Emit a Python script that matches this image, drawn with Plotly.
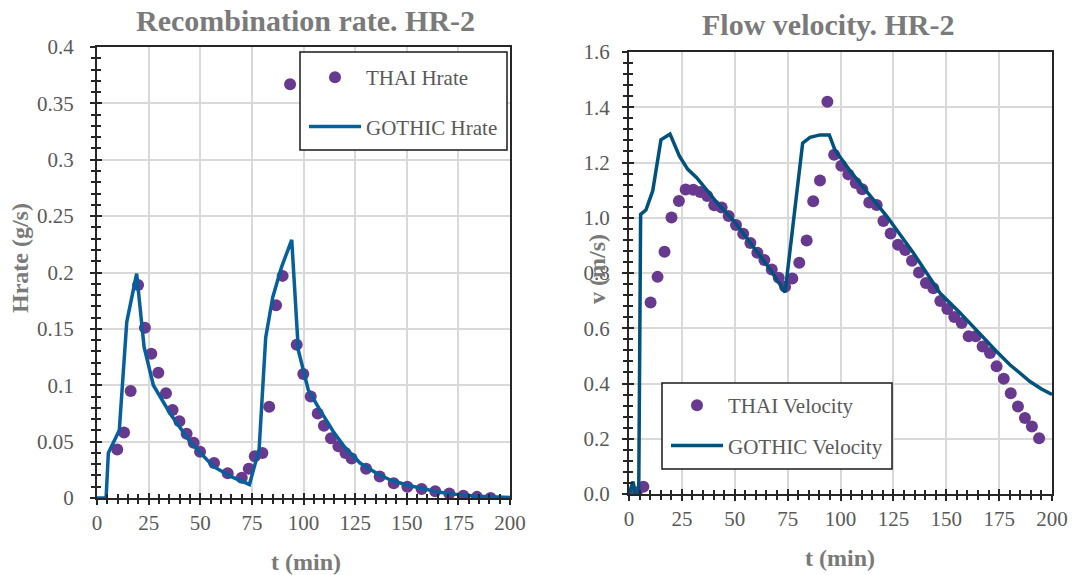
import plotly.graph_objects as go

# ---------------- data ----------------
# Recombination rate (left)
t_thai_h = [9.8, 13.1, 16.3, 19.9, 23.2, 26.3, 29.7, 33.4, 36.6, 39.9,
            43.4, 46.8, 49.9, 56.7, 63.3, 70.1, 73.5, 76.4, 80.1, 83.4,
            86.7, 89.9, 93.5, 96.7, 99.9, 103.5, 106.9, 109.9, 113.3, 116.9,
            120.3, 123.3, 130.3, 136.9, 143.7, 150.3, 157.2, 163.8, 170.6, 177.4,
            184.0, 190.6]
h_thai = [0.043, 0.058, 0.095, 0.189, 0.151, 0.128, 0.111, 0.093, 0.078, 0.068,
          0.057, 0.049, 0.041, 0.031, 0.022, 0.018, 0.026, 0.037, 0.040, 0.081,
          0.171, 0.197, 0.367, 0.136, 0.110, 0.090, 0.075, 0.064, 0.053, 0.046,
          0.040, 0.035, 0.026, 0.019, 0.013, 0.010, 0.008, 0.006, 0.004, 0.002,
          0.001, 0.000]

t_goth_h = [0, 4.4, 5.5, 10.8, 14.4, 19.2, 22.8, 27.3, 35.4, 45, 56.3, 65, 73.8,
            78.5, 81.7, 85.1, 89.4, 94.3, 97.5, 102.3, 108, 114.4, 120, 127.4,
            135.4, 142, 150, 158, 166, 175, 185, 200]
h_goth = [0, 0, 0.040, 0.060, 0.156, 0.199, 0.134, 0.100, 0.075, 0.050, 0.028, 0.019,
          0.012, 0.043, 0.1425, 0.178, 0.205, 0.229, 0.131, 0.096, 0.078, 0.059,
          0.045, 0.031, 0.022, 0.016, 0.0115, 0.008, 0.005, 0.003, 0.0015, 0.0005]

# Flow velocity (right)
t_thai_v = [3.6, 6.8, 10.2, 13.5, 16.8, 20.1, 23.6, 26.8, 30.4, 33.7,
            37.0, 40.3, 43.8, 47.1, 50.6, 54.0, 57.4, 60.7, 64.0, 67.5,
            70.8, 73.8, 77.2, 80.5, 84.0, 87.1, 90.3, 93.8, 97.0, 100.4,
            103.7, 107.2, 110.3, 113.6, 117.1, 120.3, 123.7, 127.2, 130.6, 133.8,
            137.1, 140.4, 143.9, 147.2, 150.5, 153.8, 157.3, 160.6, 163.9, 167.2,
            170.7, 173.8, 177.2, 180.5, 183.9, 187.2, 190.5, 193.9]
v_thai = [0.006, 0.026, 0.693, 0.786, 0.877, 1.001, 1.061, 1.102, 1.101, 1.093,
          1.079, 1.045, 1.037, 1.006, 0.974, 0.942, 0.909, 0.873, 0.847, 0.813,
          0.783, 0.750, 0.780, 0.837, 0.918, 1.060, 1.135, 1.420, 1.228, 1.188,
          1.157, 1.126, 1.103, 1.055, 1.046, 0.988, 0.943, 0.902, 0.883, 0.844,
          0.802, 0.764, 0.745, 0.699, 0.670, 0.641, 0.619, 0.571, 0.571, 0.534,
          0.510, 0.462, 0.417, 0.365, 0.317, 0.275, 0.244, 0.202]

t_goth_v = [0, 1.9, 3.0, 4.6, 5.5, 8.0, 11.2, 15.1, 19.4, 23.8, 27.7, 32.0, 36.7,
            41.5, 50, 60, 67, 73.8, 82.1, 85.6, 90.3, 94.7, 97.4, 105, 113.9,
            121.8, 134.4, 147, 156, 164.4, 173.8, 180.1, 189.6, 195, 200]
v_goth = [0.0, 0.045, 0.0, 0.0, 1.012, 1.028, 1.097, 1.282, 1.303, 1.224, 1.176,
          1.145, 1.101, 1.055, 0.985, 0.88, 0.81, 0.730, 1.270, 1.291, 1.300, 1.300,
          1.245, 1.165, 1.079, 1.006, 0.873, 0.728, 0.66, 0.59, 0.516, 0.468, 0.407,
          0.38, 0.36]

x_ticks = [0, 25, 50, 75, 100, 125, 150, 175, 200]
h_ticks = [0, 0.05, 0.1, 0.15, 0.2, 0.25, 0.3, 0.35, 0.4]
h_tick_text = ["0", "0.05", "0.1", "0.15", "0.2", "0.25", "0.3", "0.35", "0.4"]
v_ticks = [0, 0.2, 0.4, 0.6, 0.8, 1.0, 1.2, 1.4, 1.6]
v_tick_text = ["0.0", "0.2", "0.4", "0.6", "0.8", "1.0", "1.2", "1.4", "1.6"]

# ---------------- style ----------------
W, H = 1072, 575
SERIF = "Liberation Serif"
GRAY_TXT = "#595959"
TITLE_GRAY = "#7a7a7a"
AX = "#262626"
GRID = "#d9d9d9"
PURPLE = "#673a8f"
BLUE_L = "#075f9c"
BLUE_R = "#00527d"

def px_x(p):
    return p / W

def px_y(p):
    return 1 - p / H

L1 = (97, 510, 47, 498)     # left plot: x0, x1, ytop, ybottom
L2 = (629, 1052, 52, 494)   # right plot

fig = go.Figure()

fig.add_trace(go.Scatter(x=t_thai_h, y=h_thai, mode="markers", name="THAI Hrate",
                         marker=dict(color=PURPLE, size=12), xaxis="x", yaxis="y",
                         legend="legend", legendgroup="a"))
fig.add_trace(go.Scatter(x=t_goth_h, y=h_goth, mode="lines", name="GOTHIC Hrate",
                         line=dict(color=BLUE_L, width=3.5), xaxis="x", yaxis="y",
                         legend="legend", legendgroup="b"))
fig.add_trace(go.Scatter(x=t_thai_v, y=v_thai, mode="markers", name="THAI Velocity",
                         marker=dict(color=PURPLE, size=12), xaxis="x2", yaxis="y2",
                         legend="legend2", legendgroup="c"))
fig.add_trace(go.Scatter(x=t_goth_v, y=v_goth, mode="lines", name="GOTHIC Velocity",
                         line=dict(color=BLUE_R, width=3.5), xaxis="x2", yaxis="y2",
                         legend="legend2", legendgroup="d"))
# empty traces to host the overlay axes (inside half of the crossing ticks)
fig.add_trace(go.Scatter(x=[], y=[], xaxis="x3", yaxis="y3", showlegend=False))
fig.add_trace(go.Scatter(x=[], y=[], xaxis="x4", yaxis="y4", showlegend=False))

tickfont = dict(family=SERIF, size=21, color=GRAY_TXT)

def xaxis_main(dom, anchor):
    return dict(domain=dom, anchor=anchor, range=[0, 200], tickvals=x_ticks,
                showgrid=True, gridcolor=GRID, gridwidth=1.5, zeroline=False,
                showline=True, linecolor=AX, linewidth=2, mirror=True,
                ticks="outside", ticklen=5, tickwidth=2, tickcolor=AX,
                minor=dict(dtick=5, ticks="outside", ticklen=4, tickwidth=1.5,
                           tickcolor=AX, showgrid=False),
                tickfont=tickfont, ticklabelstandoff=0, automargin=False)

def yaxis_main(dom, anchor, rng, vals, texts, mdt, standoff):
    return dict(domain=dom, anchor=anchor, range=rng, tickvals=vals, ticktext=texts,
                showgrid=True, gridcolor=GRID, gridwidth=1.5, zeroline=False,
                showline=True, linecolor=AX, linewidth=2, mirror=True,
                ticks="outside", ticklen=5, tickwidth=2, tickcolor=AX,
                minor=dict(dtick=mdt, ticks="outside", ticklen=4, tickwidth=1.5,
                           tickcolor=AX, showgrid=False),
                tickfont=tickfont, ticklabelstandoff=standoff, automargin=False)

def overlay_x(dom, anchor, over):
    return dict(domain=dom, anchor=anchor, overlaying=over, range=[0, 200],
                tickvals=x_ticks, showgrid=False, zeroline=False, showline=False,
                showticklabels=False, ticks="inside", ticklen=5, tickwidth=2,
                tickcolor=AX, automargin=False,
                minor=dict(dtick=5, ticks="inside", ticklen=4, tickwidth=1.5,
                           tickcolor=AX, showgrid=False))

def overlay_y(dom, anchor, over, rng, vals, mdt):
    return dict(domain=dom, anchor=anchor, overlaying=over, range=rng,
                tickvals=vals, showgrid=False, zeroline=False, showline=False,
                showticklabels=False, ticks="inside", ticklen=5, tickwidth=2,
                tickcolor=AX, automargin=False,
                minor=dict(dtick=mdt, ticks="inside", ticklen=4, tickwidth=1.5,
                           tickcolor=AX, showgrid=False))

xd1 = [px_x(L1[0]), px_x(L1[1])]
yd1 = [px_y(L1[3]), px_y(L1[2])]
xd2 = [px_x(L2[0]), px_x(L2[1])]
yd2 = [px_y(L2[3]), px_y(L2[2])]

def ann(text, x, y, size, angle=0):
    return dict(text=text, x=px_x(x), y=px_y(y), xref="paper", yref="paper",
                xanchor="center", yanchor="middle", showarrow=False,
                textangle=angle, font=dict(family=SERIF, size=size, color=TITLE_GRAY))

annotations = [
    ann("<b>Recombination rate. HR-2</b>", 305, 21, 30),
    ann("<b>Flow velocity. HR-2</b>", 828, 25, 30),
    ann("<b>t (min)</b>", 306, 562, 24),
    ann("<b>t (min)</b>", 840, 558, 24),
    ann("<b>Hrate (g/s)</b>", 20, 258, 24, -90),
    ann("<b>v (m/s)</b>", 597, 269, 24, -90),
]

shapes = [
    dict(type="rect", xref="paper", yref="paper",
         x0=px_x(300), x1=px_x(507), y0=px_y(150), y1=px_y(52),
         line=dict(color="#1a1a1a", width=1.5), fillcolor="white", layer="above"),
    dict(type="rect", xref="paper", yref="paper",
         x0=px_x(662), x1=px_x(892), y0=px_y(469), y1=px_y(383),
         line=dict(color="#1a1a1a", width=1.5), fillcolor="white", layer="above"),
]

legfont = dict(family=SERIF, size=21, color=GRAY_TXT)

fig.update_layout(
    width=W, height=H,
    margin=dict(l=0, r=0, t=0, b=0, autoexpand=False),
    paper_bgcolor="white", plot_bgcolor="white",
    showlegend=True,
    xaxis=xaxis_main(xd1, "y"),
    yaxis=yaxis_main(yd1, "x", [0, 0.4], h_ticks, h_tick_text, 0.01, 12),
    xaxis2=xaxis_main(xd2, "y2"),
    yaxis2=yaxis_main(yd2, "x2", [0, 1.6], v_ticks, v_tick_text, 0.04, 8),
    xaxis3=overlay_x(xd1, "y3", "x"),
    yaxis3=overlay_y(yd1, "x3", "y", [0, 0.4], h_ticks, 0.01),
    xaxis4=overlay_x(xd2, "y4", "x2"),
    yaxis4=overlay_y(yd2, "x4", "y2", [0, 1.6], v_ticks, 0.04),
    legend=dict(x=px_x(304), y=px_y(57), xanchor="left", yanchor="top",
                bgcolor="rgba(0,0,0,0)", borderwidth=0, font=legfont,
                itemwidth=52, tracegroupgap=19),
    legend2=dict(x=px_x(666), y=px_y(385), xanchor="left", yanchor="top",
                 bgcolor="rgba(0,0,0,0)", borderwidth=0, font=legfont,
                 itemwidth=52, tracegroupgap=10),
    annotations=annotations,
    shapes=shapes,
)

fig.write_html("out.html", config={"displayModeBar": False},
               post_script="document.body.style.margin='0';document.body.style.padding='0';")
